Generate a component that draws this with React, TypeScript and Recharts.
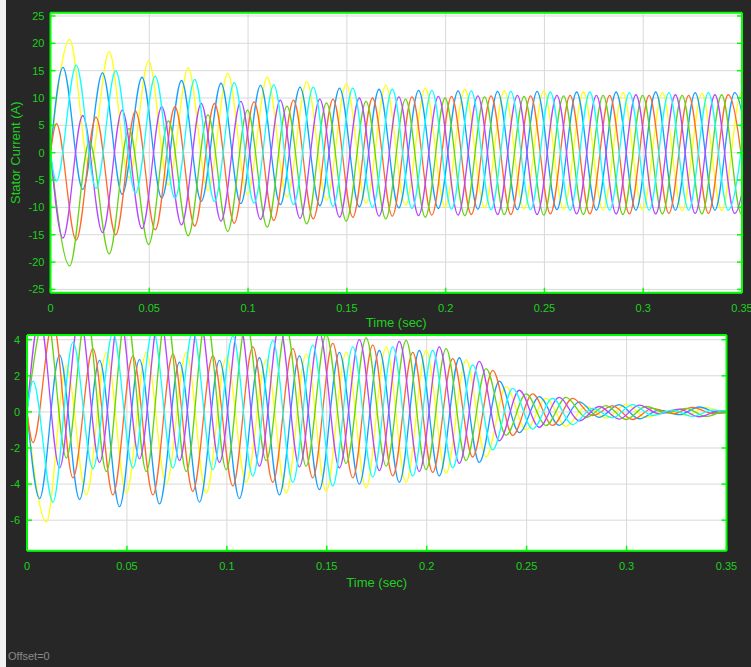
import { CartesianGrid, Label, Line, LineChart, XAxis, YAxis } from "recharts";

// extremum times (s); each pair of opposite phases shares one row
const tA = [0.003, 0.013, 0.023, 0.033, 0.043, 0.053, 0.063, 0.073, 0.083, 0.093, 0.103, 0.113, 0.123, 0.133, 0.143, 0.153, 0.163, 0.173, 0.183, 0.193, 0.203, 0.213, 0.223, 0.233, 0.243, 0.253, 0.263, 0.273, 0.283, 0.293, 0.303, 0.313, 0.323, 0.333, 0.343, 0.353];
const tB = [0.0063, 0.0163, 0.0263, 0.0363, 0.0463, 0.0563, 0.0663, 0.0763, 0.0863, 0.0963, 0.1063, 0.1163, 0.1263, 0.1363, 0.1463, 0.1563, 0.1663, 0.1763, 0.1863, 0.1963, 0.2063, 0.2163, 0.2263, 0.2363, 0.2463, 0.2563, 0.2663, 0.2763, 0.2863, 0.2963, 0.3063, 0.3163, 0.3263, 0.3363, 0.3463, 0.3563];
const tC = [0.0097, 0.0197, 0.0297, 0.0397, 0.0497, 0.0597, 0.0697, 0.0797, 0.0897, 0.0997, 0.1097, 0.1197, 0.1297, 0.1397, 0.1497, 0.1597, 0.1697, 0.1797, 0.1897, 0.1997, 0.2097, 0.2197, 0.2297, 0.2397, 0.2497, 0.2597, 0.2697, 0.2797, 0.2897, 0.2997, 0.3097, 0.3197, 0.3297, 0.3397, 0.3497, 0.3597];

const xTicks = [0, 0.05, 0.1, 0.15, 0.2, 0.25, 0.3, 0.35];
const topYTicks = [-25, -20, -15, -10, -5, 0, 5, 10, 15, 20, 25];
const botYTicks = [-6, -4, -2, 0, 2, 4];

// stator current (A), peaks / troughs
const topYellow = [20.7, -2.8, 18.5, -4.6, 16.8, -5.9, 15.5, -6.9, 14.5, -7.6, 13.8, -8.1, 13.0, -8.7, 12.6, -9.2, 12.3, -9.6, 11.8, -9.9, 11.6, -10.1, 11.3, -10.3, 11.3, -10.4, 11.1, -10.5, 11.0, -10.5, 11.0, -10.6, 10.9, -10.6, 10.9, -10.6];
const topGreen = [-20.7, 2.0, -18.5, 4.4, -16.8, 5.8, -15.2, 6.9, -14.4, 7.8, -13.6, 8.5, -13.0, 9.1, -12.5, 9.4, -12.1, 9.8, -11.8, 10.0, -11.5, 10.2, -11.3, 10.3, -11.4, 10.4, -11.3, 10.5, -11.3, 10.5, -11.2, 10.5, -11.2, 10.6, -11.2, 10.6];
const topBlue = [15.6, -6.7, 14.6, -7.6, 13.8, -8.3, 13.2, -8.9, 12.7, -9.3, 12.3, -9.5, 12.0, -9.7, 11.8, -9.9, 11.6, -10.1, 11.4, -10.2, 11.3, -10.3, 11.2, -10.4, 11.2, -10.4, 11.1, -10.5, 11.1, -10.5, 11.1, -10.5, 11.0, -10.5, 11.0, -10.5];
const topPurple = [-15.6, 6.8, -14.6, 7.8, -13.9, 8.4, -13.2, 9.0, -12.5, 9.4, -12.2, 9.6, -12.0, 9.8, -11.8, 10.0, -11.6, 10.2, -11.5, 10.3, -11.4, 10.4, -11.3, 10.5, -11.3, 10.5, -11.2, 10.5, -11.2, 10.6, -11.2, 10.6, -11.1, 10.6, -11.1, 10.6];
const topCyan = [-5.2, 16.0, -6.5, 15.0, -7.4, 14.0, -8.3, 13.4, -8.9, 12.8, -9.2, 12.4, -9.5, 12.0, -9.8, 11.8, -10.0, 11.6, -10.2, 11.4, -10.3, 11.3, -10.4, 11.2, -10.4, 11.1, -10.5, 11.1, -10.5, 11.0, -10.5, 11.0, -10.5, 11.0, -10.5, 11.0];
const topOrange = [5.3, -16.0, 6.5, -15.0, 7.6, -14.1, 8.4, -13.4, 9.0, -12.9, 9.3, -12.4, 9.6, -12.1, 9.8, -11.8, 10.0, -11.6, 10.2, -11.4, 10.3, -11.3, 10.4, -11.3, 10.4, -11.2, 10.5, -11.2, 10.5, -11.2, 10.5, -11.1, 10.5, -11.1, 10.6, -11.1];

// lower scope
const botYellow = [-6.1, 2.55, -4.6, 3.3, -4.5, 3.3, -4.0, 3.3, -4.5, 3.0, -3.9, 2.9, -4.5, 3.2, -4.4, 3.3, -4.2, 3.6, -3.9, 3.4, -3.4, 2.9, -2.5, 1.4, -1.0, 0.75, -0.8, 0.3, -0.35, 0.42, -0.3, 0.05, -0.2, 0.25, -0.04, 0.02];
const botGreen = [5.5, -2.55, 5.6, -3.3, 5.6, -3.3, 5.5, -3.3, 5.3, -3.2, 5.0, -2.7, 4.7, -3.0, 4.3, -2.85, 4.1, -3.0, 3.96, -3.2, 3.5, -2.7, 2.4, -1.3, 1.0, -0.75, 0.8, -0.3, 0.35, -0.42, 0.3, -0.05, 0.2, -0.25, 0.04, -0.02];
const botBlue = [-4.8, 3.15, -4.85, 2.85, -5.25, 2.9, -5.1, 2.75, -5.0, 2.85, -4.8, 3.0, -4.6, 3.1, -4.3, 3.3, -4.0, 3.4, -3.9, 3.4, -3.55, 3.0, -2.8, 1.7, -1.15, 0.85, -0.75, 0.55, -0.3, 0.4, -0.38, 0.1, -0.15, 0.27, -0.06, 0.02];
const botPurple = [5.2, -3.1, 5.4, -2.8, 5.5, -2.6, 5.5, -2.7, 5.3, -2.8, 5.0, -3.0, 4.8, -3.05, 4.4, -3.1, 4.0, -3.25, 3.9, -3.3, 3.6, -2.85, 2.8, -1.6, 1.2, -0.85, 0.8, -0.5, 0.3, -0.4, 0.38, -0.1, 0.15, -0.27, 0.06, -0.02];
const botCyan = [1.7, -5.0, 3.85, -3.15, 4.4, -3.1, 4.6, -3.1, 4.5, -3.2, 4.2, -3.55, 3.95, -3.9, 3.7, -4.1, 3.6, -3.6, 3.6, -3.55, 3.4, -3.1, 2.6, -2.1, 1.3, -0.95, 0.75, -0.7, 0.2, -0.33, 0.4, -0.2, 0.1, -0.25, 0.1, -0.02];
const botOrange = [-1.7, 5.0, -3.65, 3.5, -4.6, 3.1, -4.6, 3.2, -4.4, 3.1, -4.1, 3.6, -3.9, 3.5, -3.65, 3.8, -3.65, 3.7, -3.55, 3.3, -3.35, 2.95, -2.5, 2.3, -1.3, 1.0, -0.75, 0.75, -0.2, 0.33, -0.42, 0.2, -0.1, 0.25, -0.08, 0.02];

const FRAME = "#00ff00";
const TEXT = "#1fcf1f";
const FONT = "'Liberation Sans', Arial, Helvetica, sans-serif";

const toPoints = (times: number[], vals: number[]) =>
    [{ t: 0, v: 0 }, ...times.map((t, i) => ({ t, v: vals[i] }))];

const topSeries = [
    { name: "a", color: "#ffff11", data: toPoints(tC, topYellow) },
    { name: "b", color: "#139fff", data: toPoints(tB, topBlue) },
    { name: "c", color: "#ff6929", data: toPoints(tA, topOrange) },
    { name: "d", color: "#64d413", data: toPoints(tC, topGreen) },
    { name: "e", color: "#b746ff", data: toPoints(tB, topPurple) },
    { name: "f", color: "#0fffff", data: toPoints(tA, topCyan) },
];

const botSeries = [
    { name: "a", color: "#ffff11", data: toPoints(tC, botYellow) },
    { name: "b", color: "#139fff", data: toPoints(tB, botBlue) },
    { name: "c", color: "#ff6929", data: toPoints(tA, botOrange) },
    { name: "d", color: "#64d413", data: toPoints(tC, botGreen) },
    { name: "e", color: "#b746ff", data: toPoints(tB, botPurple) },
    { name: "f", color: "#0fffff", data: toPoints(tA, botCyan) },
];

// ticks point into the plot, labels sit outside
const BottomTick = (p: any) => <g>
    <line x1={p.x} y1={p.y} x2={p.x} y2={p.y - 5} stroke={FRAME} strokeWidth={1.5} />
    <text x={p.x} y={p.y + 15} fill={TEXT} fontSize={11} fontFamily={FONT} textAnchor="middle" dominantBaseline="central">{p.payload.value}</text>
</g>;
const TopTick = (p: any) => <line x1={p.x} y1={p.y} x2={p.x} y2={p.y + 5} stroke={FRAME} strokeWidth={1.5} />;
const RightTick = (p: any) => <line x1={p.x} y1={p.y} x2={p.x - 5} y2={p.y} stroke={FRAME} strokeWidth={1.5} />;
const leftTick = (gap: number) => (p: any) => <g>
    <line x1={p.x} y1={p.y} x2={p.x + 5} y2={p.y} stroke={FRAME} strokeWidth={1.5} />
    <text x={p.x - gap} y={p.y} fill={TEXT} fontSize={11} fontFamily={FONT} textAnchor="end" dominantBaseline="central">{p.payload.value}</text>
</g>;

type PanelProps = {
    height: number;
    margin: { top: number; right: number; bottom: number; left: number };
    xAxisHeight: number;
    yAxisWidth: number;
    yDomain: [number, number];
    yTicks: number[];
    labelGap: number;
    xLabelOffset: number;
    yLabel?: string;
    series: { name: string; color: string; data: { t: number; v: number }[] }[];
};

const Panel = (props: PanelProps) => <LineChart width={751} height={props.height} margin={props.margin}>
    <CartesianGrid xAxisId="x" yAxisId="y" stroke="#d9d9d9" fill="#ffffff" fillOpacity={1} />
    <XAxis xAxisId="x" dataKey="t" type="number" domain={[0, 0.35]} ticks={xTicks} interval={0} allowDataOverflow
        height={props.xAxisHeight} tickSize={0} tickMargin={0} tickLine={false} tick={BottomTick}
        axisLine={{ stroke: FRAME, strokeWidth: 2 }}>
        <Label value="Time (sec)" position="insideTop" offset={props.xLabelOffset} fill={TEXT} fontSize={13} fontFamily={FONT} />
    </XAxis>
    <XAxis xAxisId="xt" orientation="top" type="number" domain={[0, 0.35]} ticks={xTicks} interval={0} allowDataOverflow
        height={1} tickSize={0} tickMargin={0} tickLine={false} tick={TopTick}
        axisLine={{ stroke: FRAME, strokeWidth: 2 }} />
    <YAxis yAxisId="y" type="number" domain={props.yDomain} ticks={props.yTicks} interval={0} allowDataOverflow
        width={props.yAxisWidth} tickSize={0} tickMargin={0} tickLine={false} tick={leftTick(props.labelGap)}
        axisLine={{ stroke: FRAME, strokeWidth: 2 }}>
        {props.yLabel && <Label value={props.yLabel} angle={-90} position="insideLeft" offset={15} fill={TEXT} fontSize={13}
            fontFamily={FONT} style={{ textAnchor: "middle" }} />}
    </YAxis>
    <YAxis yAxisId="yr" orientation="right" type="number" domain={props.yDomain} ticks={props.yTicks} interval={0} allowDataOverflow
        width={1} tickSize={0} tickMargin={0} tickLine={false} tick={RightTick}
        axisLine={{ stroke: FRAME, strokeWidth: 2 }} />
    {props.series.map(s =>
        <Line key={s.name} xAxisId="x" yAxisId="y" data={s.data} dataKey="v" type="monotone" stroke={s.color}
            strokeWidth={1.3} dot={false} activeDot={false} isAnimationActive={false} />
    )}
</LineChart>;

const App = () => {
    return <div style={{ position: "fixed", left: 0, top: 0, width: 751, height: 667, background: "#272727", overflow: "hidden", fontFamily: FONT }}>
        <div style={{ position: "absolute", left: 0, top: 0, width: 6, height: 667, background: "#f2f2f2" }} />
        <div style={{ position: "absolute", left: 0, top: 0 }}>
            <Panel height={330} margin={{ top: 11.7, right: 8, bottom: 0, left: 0 }} xAxisHeight={37.3} yAxisWidth={50.5}
                yDomain={[-25.6, 25.6]} yTicks={topYTicks} labelGap={6} xLabelOffset={25.5} yLabel="Stator Current (A)" series={topSeries} />
        </div>
        <div style={{ position: "absolute", left: 0, top: 330 }}>
            <Panel height={337} margin={{ top: 4, right: 23.5, bottom: 0, left: 0 }} xAxisHeight={116.3} yAxisWidth={27}
                yDomain={[-7.69, 4.26]} yTicks={botYTicks} labelGap={7} xLabelOffset={27.5} series={botSeries} />
        </div>
        <div style={{ position: "absolute", left: 8, top: 650, color: "#8a8a8a", fontSize: 11 }}>Offset=0</div>
    </div>;
}

export default App;
